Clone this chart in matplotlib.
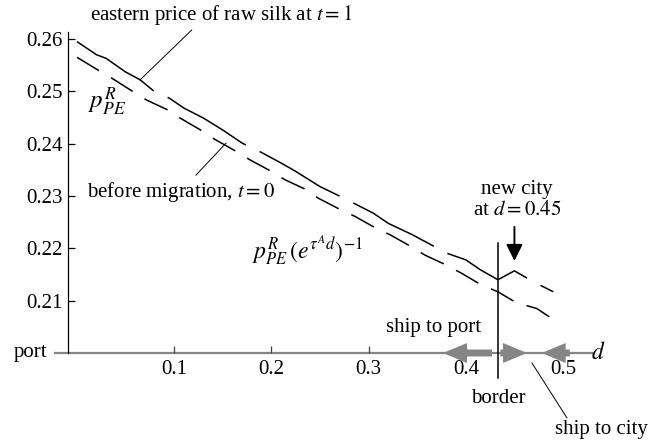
import matplotlib
matplotlib.use('Agg')
import matplotlib.pyplot as plt

plt.rcParams['font.family'] = 'Liberation Serif'
plt.rcParams['mathtext.fontset'] = 'stix'
plt.rcParams['lines.scale_dashes'] = False

# eastern price of raw silk at t = 1, port side of the border
d_t1 = [0, 0.02, 0.03, 0.05, 0.065, 0.08, 0.095, 0.11, 0.13, 0.15, 0.17, 0.19,
        0.21, 0.225, 0.25, 0.27, 0.285, 0.305, 0.32, 0.345, 0.365, 0.38, 0.40,
        0.415, 0.433]
price_t1 = [0.2595, 0.2570, 0.2563, 0.2537, 0.2522, 0.2499, 0.2487, 0.2468,
            0.2449, 0.2426, 0.2401, 0.2383, 0.2363, 0.2347, 0.2318, 0.2300,
            0.2286, 0.2267, 0.2248, 0.2226, 0.2206, 0.2191, 0.2178, 0.2159,
            0.2140]

# t = 1 on the city side of the border
d_t1_city = [0.433, 0.45, 0.463, 0.476, 0.49]
price_t1_city = [0.2140, 0.2157, 0.2143, 0.2130, 0.2117]

# before migration, t = 0
d_t0 = [0, 0.024, 0.036, 0.058, 0.072, 0.094, 0.106, 0.13, 0.142, 0.164, 0.178,
        0.2, 0.214, 0.236, 0.248, 0.272, 0.286, 0.308, 0.322, 0.344, 0.358,
        0.38, 0.396, 0.416, 0.433, 0.452, 0.473, 0.49]
price_t0 = [0.2565, 0.2538, 0.2525, 0.2499, 0.2483, 0.2464, 0.2449, 0.2423,
            0.2408, 0.2385, 0.2369, 0.2347, 0.2331, 0.2312, 0.2296, 0.2273,
            0.2261, 0.2238, 0.2226, 0.2203, 0.2187, 0.2168, 0.2152, 0.2130,
            0.2117, 0.2096, 0.2085, 0.2064]

x_ticks = [0.1, 0.2, 0.3, 0.4, 0.5]
x_labels = ['0.1', '0.2', '0.3', '0.4', '0.5']
y_ticks = [0.21, 0.22, 0.23, 0.24, 0.25, 0.26]
y_labels = ['0.21', '0.22', '0.23', '0.24', '0.25', '0.26']

border_d = 0.433
city_d = 0.45

fs = 15
grey = '#858585'

fig = plt.figure(figsize=(6.51, 4.46), dpi=100)
ax = fig.add_axes([68 / 651, 1 - 353 / 446, 524 / 651, 321 / 446])
ax.set_xlim(-0.00926, 0.5298)
ax.set_ylim(0.2, 0.26134)

for s in ['top', 'right', 'bottom']:
    ax.spines[s].set_visible(False)
ax.spines['left'].set_linewidth(0.9)

ax.set_xticks(x_ticks, x_labels, fontsize=fs)
ax.set_yticks(y_ticks, y_labels, fontsize=fs)
ax.tick_params(axis='y', direction='in', length=5, width=0.9, pad=4)
ax.tick_params(axis='x', direction='in', length=5, width=0.9, pad=5,
               color='#444444')

# distance axis, grey, reaching a bit left of the price axis
ax.plot([-0.0226, 0.5298], [0.2, 0.2], color=grey, lw=1.6, clip_on=False,
        zorder=1)

ax.plot(d_t1, price_t1, color='black', lw=1.1, ls=(0, (66, 11)))
ax.plot(d_t1_city, price_t1_city, color='black', lw=1.1, ls=(0, (24, 11)))
ax.plot(d_t0, price_t0, color='black', lw=1.1, ls=(0, (18.5, 10)))

# border between the port and city markets
ax.plot([border_d, border_d], [0.2210, 0.1952], color='black', lw=1.1,
        clip_on=False, zorder=4)

# shipping directions along the axis
arrow_style = 'simple,head_length=1.73,head_width=1.44,tail_width=0.5'
for tail, tip in [(0.427, 0.3765), (0.4355, 0.463), (0.507, 0.478)]:
    ax.annotate('', xy=(tip, 0.2), xytext=(tail, 0.2),
                arrowprops=dict(arrowstyle=arrow_style, color=grey, lw=0,
                                shrinkA=0, shrinkB=0, mutation_scale=10),
                annotation_clip=False, zorder=3)

# new city marker
ax.annotate('', xy=(city_d, 0.2176), xytext=(city_d, 0.2241),
            arrowprops=dict(arrowstyle='-|>,head_length=1.0,head_width=0.5',
                            color='black', lw=1.4, shrinkA=0, shrinkB=0,
                            mutation_scale=10))
ax.text(city_d + 0.0025, 0.2292, 'new city\nat $d = 0.45$', fontsize=fs,
        ha='center', va='center', linespacing=1.15)

# labels and leader lines
ax.text(0.148, 0.2646, 'eastern price of raw silk at $t = 1$', fontsize=fs,
        ha='center', va='center', clip_on=False)
ax.plot([0.118, 0.0648], [0.26172, 0.25217], color='black', lw=0.7,
        clip_on=False)
ax.text(0.0113, 0.2480, '$p^{R}_{PE}$', fontsize=fs + 3, ha='left',
        va='center')
ax.text(0.1075, 0.2308, 'before migration, $t = 0$', fontsize=fs,
        ha='center', va='center')
ax.plot([0.1224, 0.1533], [0.2340, 0.2401], color='black', lw=0.7)
ax.text(0.2366, 0.2197, r'$p^{R}_{PE}\,(e^{\tau^{A}d})^{-1}$', fontsize=fs + 2,
        ha='center', va='center')

ax.text(0.3663, 0.2048, 'ship to port', fontsize=fs, ha='center',
        va='center')
ax.text(border_d, 0.1914, 'border', fontsize=fs, ha='center', va='center',
        clip_on=False)
ax.text(0.540, 0.1853, 'ship to city', fontsize=fs, ha='center', va='center',
        clip_on=False)
ax.plot([0.468, 0.504], [0.1981, 0.1876], color='black', lw=0.7,
        clip_on=False)
ax.text(-0.0309, 0.2, 'port', fontsize=fs, ha='right', va='center',
        clip_on=False)
ax.text(0.536, 0.2, '$d$', fontsize=fs + 2, ha='center', va='center',
        clip_on=False)

fig.savefig('out.png', dpi=100)
